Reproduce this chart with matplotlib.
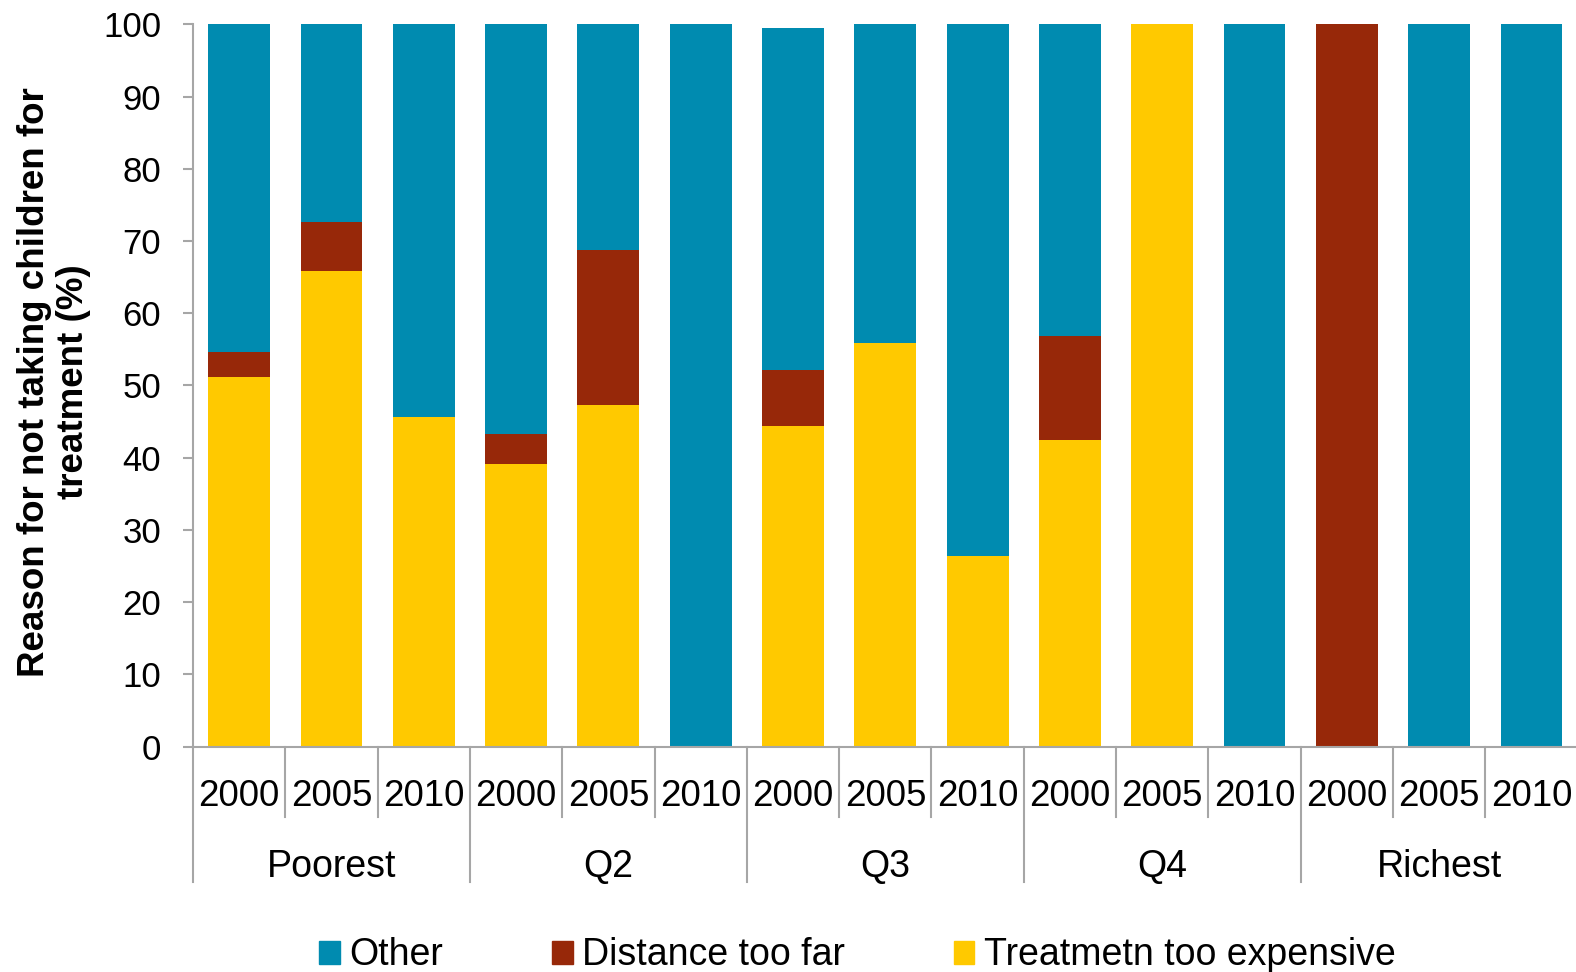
import matplotlib
matplotlib.use("Agg")
from matplotlib import pyplot as plt
from matplotlib.patches import Patch
import numpy as np

plt.rcParams['font.family'] = ['Liberation Sans', 'DejaVu Sans']

# Данные
groups = ["Poorest", "Q2", "Q3", "Q4", "Richest"]
years = ["2000", "2005", "2010"]
expensive = [51.2, 65.9, 45.7, 39.2, 47.3, 0, 44.4, 55.9, 26.4, 42.4, 100, 0, 0, 0, 0]
distance = [3.5, 6.8, 0, 4.1, 21.5, 0, 7.7, 0, 0, 14.5, 0, 0, 100, 0, 0]
other = [45.3, 27.3, 54.3, 56.7, 31.2, 100, 47.4, 44.1, 73.6, 43.1, 0, 100, 0, 100, 100]

c_other = "#008BB0"
c_dist = "#972809"
c_exp = "#FFC900"
grey = "#A6A6A6"

fig = plt.figure(figsize=(15.76, 9.72), dpi=100)
ax = fig.add_axes([0.1225, 0.2318, 0.8785, 0.7432])

x = np.arange(len(expensive))
w = 0.67
exp_a = np.array(expensive)
dist_a = np.array(distance)
ax.bar(x, exp_a, w, color=c_exp, edgecolor="none")
ax.bar(x, dist_a, w, bottom=exp_a, color=c_dist, edgecolor="none")
ax.bar(x, other, w, bottom=exp_a + dist_a, color=c_other, edgecolor="none")

ax.set_xlim(-0.5, len(x) - 0.5)
ax.set_ylim(0, 100)
ax.set_yticks(range(0, 101, 10))
ax.tick_params(axis="y", length=7, width=1.5, color=grey, labelsize=25, pad=16)
ax.set_xticks([])

for s in ["top", "right"]:
    ax.spines[s].set_visible(False)
for s in ["left", "bottom"]:
    ax.spines[s].set_color(grey)
    ax.spines[s].set_linewidth(1.5)

# Подписи по оси X (годы и группы)
tr = ax.get_xaxis_transform()
for i in range(len(x)):
    ax.text(i, -0.069, years[i % 3], transform=tr, ha="center", va="center", fontsize=26.5)
for i in range(len(x) + 1):
    xs = i - 0.5
    if i % 3 == 0:
        ax.plot([xs, xs], [0, -0.187], transform=tr, color=grey, lw=1.5, clip_on=False)
    else:
        ax.plot([xs, xs], [0, -0.097], transform=tr, color=grey, lw=1.5, clip_on=False)
for g, name in enumerate(groups):
    ax.text(3 * g + 1, -0.166, name, transform=tr, ha="center", va="center", fontsize=27)

fig.text(0.034, 0.607, "Reason for not taking children for\ntreatment (%)", rotation=90,
         ha="center", va="center", multialignment="center", fontsize=26.5, fontweight="bold",
         linespacing=1.15)

handles = [Patch(color=c_other, label="Other"),
           Patch(color=c_dist, label="Distance too far"),
           Patch(color=c_exp, label="Treatmetn too expensive")]
fig.legend(handles=handles, loc="center", bbox_to_anchor=(0.544, 0.017), ncol=3,
           frameon=False, fontsize=27, handlelength=0.55, handleheight=0.55,
           handletextpad=0.25, columnspacing=2.9, borderpad=0)

plt.savefig("out.png", dpi=100)
